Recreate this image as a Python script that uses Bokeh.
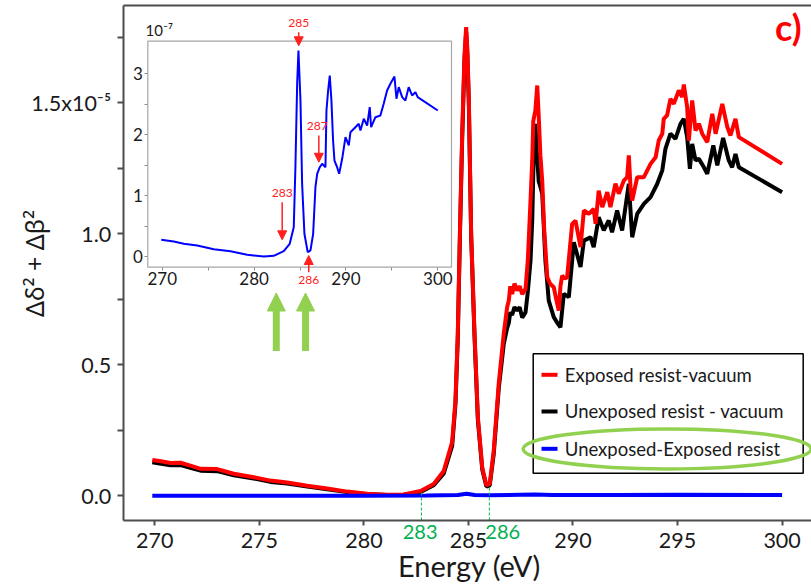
import math
from bokeh.plotting import figure
from bokeh.models import (Range1d, LinearAxis, FixedTicker, Label, Arrow, NormalHead)
from bokeh.core.properties import value
from bokeh.embed import file_html
from bokeh.resources import INLINE

# ---------------- data (main panel, y in units of 1e-5) ----------------
energy_exposed = [269.88, 270.3, 270.75, 271.23, 271.7, 272.19, 272.98, 273.78, 274.73, 275.53,
                  276.33, 277.29, 278.24, 279.2, 280.16, 281.11, 281.91, 282.71, 283.34, 283.82,
                  284.22, 284.38, 284.49, 284.59, 284.7, 284.81, 284.89, 284.95, 285.02, 285.13,
                  285.29, 285.45, 285.66, 285.86, 286.02, 286.21, 286.45, 286.69, 286.85, 286.93,
                  287.0, 287.09, 287.2, 287.33, 287.45, 287.57, 287.73, 287.84, 287.97, 288.05,
                  288.1, 288.2, 288.29, 288.36, 288.44, 288.53, 288.62, 288.77, 288.9, 289.08,
                  289.2, 289.32, 289.4, 289.48, 289.6, 289.72, 289.96, 290.12, 290.36, 290.52,
                  290.76, 290.99, 291.08, 291.23, 291.4, 291.64, 291.79, 292.03, 292.19, 292.43,
                  292.59, 292.67, 292.75, 292.83, 293.07, 293.39, 293.71, 293.95, 294.1, 294.27,
                  294.34, 294.5, 294.66, 294.82, 295.06, 295.22, 295.3, 295.46, 295.54, 295.7,
                  295.86, 296.02, 296.18, 296.42, 296.66, 296.82, 297.14, 297.38, 297.53, 297.77,
                  297.93, 300.0]
exposed_vacuum = [0.137, 0.132, 0.125, 0.126, 0.115, 0.103, 0.102, 0.084, 0.071, 0.058,
                  0.051, 0.038, 0.028, 0.016, 0.008, 0.004, 0.005, 0.018, 0.045, 0.095,
                  0.205, 0.364, 0.619, 1.0, 1.38, 1.68, 1.789, 1.70, 1.51, 1.0,
                  0.62, 0.30, 0.108, 0.04, 0.046, 0.173, 0.43, 0.62, 0.72, 0.745,
                  0.80, 0.77, 0.81, 0.784, 0.80, 0.77, 0.79, 0.9, 1.13, 1.28,
                  1.43, 1.47, 1.566, 1.45, 1.30, 1.2, 1.02, 0.834, 0.81, 0.796,
                  0.75, 0.707, 0.80, 0.84, 0.83, 0.834, 1.038, 1.05, 0.949, 1.089,
                  1.076, 1.095, 1.038, 1.165, 1.102, 1.159, 1.102, 1.191, 1.153, 1.203,
                  1.216, 1.299, 1.178, 1.127, 1.216, 1.216, 1.267, 1.292, 1.356, 1.382,
                  1.439, 1.452, 1.515, 1.496, 1.547, 1.522, 1.57, 1.483, 1.356, 1.509,
                  1.394, 1.42, 1.382, 1.35, 1.458, 1.382, 1.496, 1.407, 1.375, 1.439,
                  1.369, 1.267]

energy_unexposed = [269.88, 270.3, 270.75, 271.23, 271.7, 272.19, 272.98, 273.78, 274.73, 275.53,
                    276.33, 277.29, 278.24, 279.2, 280.16, 281.11, 281.91, 282.71, 283.34, 283.82,
                    284.22, 284.38, 284.49, 284.59, 284.7, 284.81, 284.89, 284.95, 285.02, 285.13,
                    285.29, 285.45, 285.66, 285.86, 286.02, 286.21, 286.45, 286.69, 286.85, 286.93,
                    287.0, 287.09, 287.2, 287.33, 287.45, 287.57, 287.73, 287.84, 287.97, 288.05,
                    288.12, 288.2, 288.28, 288.36, 288.44, 288.53, 288.68, 288.84, 289.08, 289.25,
                    289.4, 289.56, 289.8, 290.04, 290.36, 290.52, 290.84, 290.99, 291.23, 291.47,
                    291.71, 291.87, 292.11, 292.35, 292.51, 292.67, 292.83, 293.07, 293.39, 293.71,
                    294.03, 294.27, 294.42, 294.66, 294.9, 295.14, 295.3, 295.46, 295.59, 295.7,
                    295.86, 296.02, 296.26, 296.42, 296.71, 296.9, 297.18, 297.45, 297.61, 297.77,
                    297.93, 300.0]
unexposed_vacuum = [0.128, 0.122, 0.117, 0.117, 0.107, 0.096, 0.094, 0.078, 0.066, 0.053,
                    0.047, 0.035, 0.025, 0.014, 0.006, 0.003, 0.004, 0.015, 0.040, 0.085,
                    0.19, 0.35, 0.60, 0.98, 1.36, 1.66, 1.77, 1.68, 1.49, 0.99,
                    0.61, 0.29, 0.10, 0.035, 0.04, 0.16, 0.41, 0.58, 0.64, 0.66,
                    0.70, 0.69, 0.72, 0.707, 0.72, 0.68, 0.70, 0.78, 0.90, 1.05,
                    1.30, 1.42, 1.30, 1.20, 1.18, 1.152, 0.898, 0.745, 0.682, 0.66,
                    0.643, 0.771, 0.758, 0.968, 0.873, 0.974, 0.987, 0.949, 1.063, 1.013,
                    1.051, 1.006, 1.089, 1.013, 1.102, 1.191, 0.987, 1.076, 1.114, 1.14,
                    1.191, 1.242, 1.324, 1.382, 1.362, 1.42, 1.439, 1.369, 1.248, 1.343,
                    1.28, 1.286, 1.254, 1.229, 1.337, 1.261, 1.366, 1.28, 1.254, 1.305,
                    1.254, 1.159]

energy_diff_main = [269.88, 275.0, 280.0, 283.0, 284.5, 284.9, 285.3, 286.0, 287.5, 288.2, 289.0, 292.0, 295.0, 300.0]
diff_main = [0.0, 0.0, 0.0, 0.001, 0.003, 0.008, 0.003, 0.002, 0.004, 0.005, 0.003, 0.003, 0.004, 0.003]

# ---------------- data (inset, y in units of 1e-7) ----------------
energy_inset = [269.9, 271.26, 272.35, 273.81, 275.62, 277.43, 279.25, 281.06, 282.14, 283.23,
                283.88, 284.32, 284.5, 284.69, 284.83, 285.05, 285.23, 285.48, 285.84, 286.14,
                286.43, 286.68, 286.87, 287.15, 287.41, 287.77, 287.88, 288.06, 288.24, 288.42,
                288.6, 288.75, 289.04, 289.26, 289.59, 289.95, 290.31, 290.49, 291.03, 291.39,
                291.58, 291.94, 292.31, 292.59, 292.74, 293.21, 293.75, 294.11, 294.48, 294.84,
                295.28, 295.5, 295.75, 296.12, 296.47, 296.83, 297.2, 297.56, 297.81, 300.0]
diff_inset = [0.274, 0.246, 0.208, 0.181, 0.12, 0.087, 0.028, 0.0, 0.011, 0.087,
              0.208, 0.48, 1.466, 2.836, 3.383, 2.56, 1.194, 0.373, 0.071, 0.1,
              0.373, 1.138, 1.358, 1.466, 1.522, 1.466, 2.397, 2.726, 2.972, 2.56,
              1.905, 1.576, 1.466, 1.358, 1.604, 1.959, 1.823, 2.041, 2.123, 2.179,
              2.069, 2.261, 2.151, 2.452, 2.123, 2.287, 2.315, 2.507, 2.726, 2.836,
              2.956, 2.59, 2.78, 2.616, 2.56, 2.78, 2.644, 2.698, 2.616, 2.397]

# ticks
x_ticks = [270, 275, 280, 285, 290, 295, 300]
y_tick_values = [0.0, 0.25, 0.5, 0.75, 1.0, 1.25, 1.5, 1.75]
y_tick_labels = ["0.0", "", "0.5", "", "1.0", "", "1.5x10⁻⁵", ""]
inset_x_ticks = [270, 280, 290, 300]
inset_x_minor = [275, 285, 295]
inset_y_ticks = [0, 1, 2, 3]
inset_y_minor = [0.5, 1.5, 2.5]

legend_labels = ["Exposed resist-vacuum", "Unexposed resist - vacuum", "Unexposed-Exposed resist"]
legend_colors = ["#ff0000", "black", "#0000ff"]

# annotated energies (green dashed markers) and where their labels sit
marker_energies = [282.75, 286.0]
marker_tops = [0.018, 0.042]
marker_texts = ["283", "286"]
marker_text_pos = [282.69, 286.64]
inset_marks = [("285", 284.86), ("283", 283.06), ("287", 287.05), ("286", 285.95)]

TXT = "#1a1a1a"
AX = "#4d4d4d"
FONT = "Lato"

# main axes box (data units) and canvas-wide view ranges
AX0, AX1, AY0, AY1 = 268.49, 301.41, -0.0943, 1.8714

p = figure(width=811, height=584, output_backend="svg", toolbar_location=None,
           x_range=Range1d(262.621, 301.406), y_range=Range1d(-0.33855, 1.89046),
           x_axis_type=None, y_axis_type=None,
           min_border_left=0, min_border_right=0, min_border_top=0, min_border_bottom=0)
p.outline_line_color = None
p.grid.visible = False
p.background_fill_color = "white"
p.border_fill_color = "white"


def style_axis(ax, color, lw, font_size, tick_out):
    ax.axis_line_color = color
    ax.axis_line_width = lw
    ax.major_tick_line_color = color
    ax.major_tick_line_width = lw
    ax.major_tick_in = 0
    ax.major_tick_out = tick_out
    ax.minor_tick_line_color = color
    ax.minor_tick_in = 0
    ax.minor_tick_out = tick_out
    ax.major_label_text_font = FONT
    ax.major_label_text_font_size = font_size
    ax.major_label_text_color = TXT


xa = LinearAxis(fixed_location=AY0, bounds=(AX0, AX1), ticker=FixedTicker(ticks=x_ticks, minor_ticks=[]))
style_axis(xa, AX, 2, "21.5px", 5)
xa.major_label_standoff = 7
p.add_layout(xa, "below")

ya = LinearAxis(fixed_location=AX0, bounds=(AY0, AY1), ticker=FixedTicker(ticks=y_tick_values, minor_ticks=[]),
                major_label_overrides=dict(zip(y_tick_values, y_tick_labels)))
style_axis(ya, AX, 2, "21.5px", 6)
ya.major_label_standoff = 6
p.add_layout(ya, "left")

top_rule = LinearAxis(fixed_location=AY1, bounds=(AX0, AX1), ticker=FixedTicker(ticks=[], minor_ticks=[]))
style_axis(top_rule, AX, 2, "0px", 0)
p.add_layout(top_rule, "above")

# green energy labels under the axis, placed like tick labels (slightly higher than the main ones)
gx = LinearAxis(fixed_location=AY0, ticker=FixedTicker(ticks=marker_text_pos, minor_ticks=[]),
                major_label_overrides=dict(zip(marker_text_pos, marker_texts)))
style_axis(gx, AX, 1, "20px", 0)
gx.axis_line_color = None
gx.major_tick_line_color = None
gx.minor_tick_line_color = None
gx.major_label_text_color = "#00b050"
gx.major_label_standoff = 4
p.add_layout(gx, "below")

# titles and panel label
p.add_layout(Label(x=285.05, y=-0.266, text="Energy (eV)", text_align="center", text_baseline="middle",
                   text_font=FONT, text_font_size="29px", text_color=TXT))
p.add_layout(Label(x=264.2, y=0.8866, text="Δδ² + Δβ²", angle=math.pi / 2, text_align="center",
                   text_baseline="middle", text_font="Noto Sans", text_font_size="25px", text_color=TXT))
p.add_layout(Label(x=300.3, y=1.79, text="c)", text_align="center", text_baseline="middle",
                   text_font=FONT, text_font_size="36px", text_font_style="bold", text_color="#ff0000"))

# main curves
r_black = p.line(energy_unexposed, unexposed_vacuum, line_color="black", line_width=4)
r_red = p.line(energy_exposed, exposed_vacuum, line_color="#ff0000", line_width=4)
r_blue = p.line(energy_diff_main, diff_main, line_color="#0000ff", line_width=4)

# green dashed markers
p.segment(x0=marker_energies, y0=[AY0] * 2, x1=marker_energies, y1=marker_tops,
          line_color="#00b050", line_width=1, line_dash="3 2")

# green arrows
for xe in (275.81, 277.21):
    p.add_layout(Arrow(x_start=xe, y_start=0.553, x_end=xe, y_end=0.774, line_color="#92d050",
                       line_width=7, end=NormalHead(size=18, fill_color="#92d050", line_color="#92d050",
                                                    line_width=1)))

# legend box (drawn with glyphs so the highlight ellipse can sit on top of it)
LG_L, LG_R, LG_B, LG_T = 288.097, 301.009, 0.0863, 0.542
legend_y = [0.4618, 0.3218, 0.1794]
p.quad(left=[LG_L], right=[LG_R], bottom=[LG_B], top=[LG_T], fill_color="white",
       line_color="black", line_width=1.5)
p.segment(x0=[288.494] * 3, y0=legend_y, x1=[289.259] * 3, y1=legend_y,
          line_color=legend_colors, line_width=4)
p.text(x=[289.608] * 3, y=legend_y, text=legend_labels, text_font=value(FONT),
       text_font_size="18.5px", text_color=TXT, text_baseline="middle", text_align="left")

# green highlight ellipse around the third legend entry
p.ellipse(x=[294.5], y=[0.179], width=288, height=40, width_units="screen", height_units="screen",
          fill_color=None, line_color="#92d050", line_width=3.5)

# ---------------- inset via extra ranges ----------------
p.extra_x_ranges = {"inset_x": Range1d(252.399, 340.676)}
p.extra_y_ranges = {"inset_y": Range1d(-5.3859, 4.2036)}
IX0, IX1, IY0, IY1 = 268.433, 301.49, -0.1757, 3.535

p.quad(left=[IX0], right=[IX1], bottom=[IY0], top=[IY1], x_range_name="inset_x", y_range_name="inset_y",
       fill_color="white", line_color="#a6a6a6", line_width=1.2)
p.line(energy_inset, diff_inset, x_range_name="inset_x", y_range_name="inset_y",
       line_color="#0000ff", line_width=2)

iax = LinearAxis(x_range_name="inset_x", y_range_name="inset_y", fixed_location=IY0, bounds=(IX0, IX1),
                 ticker=FixedTicker(ticks=inset_x_ticks, minor_ticks=inset_x_minor))
iay = LinearAxis(x_range_name="inset_x", y_range_name="inset_y", fixed_location=IX0, bounds=(IY0, IY1),
                 ticker=FixedTicker(ticks=inset_y_ticks, minor_ticks=inset_y_minor))
for ax in (iax, iay):
    style_axis(ax, "#8c8c8c", 1, "17px", 3)
    ax.axis_line_color = None
    ax.major_label_standoff = 2
p.add_layout(iax, "below")
p.add_layout(iay, "left")

p.add_layout(Label(x=268.18, y=3.711, text="10⁻⁷", x_range_name="inset_x", y_range_name="inset_y",
                   text_align="left", text_baseline="middle", text_font=FONT, text_font_size="15px",
                   text_color=TXT))

# red inset annotations: label position y and arrow start/end
inset_label_y = [3.842, 1.043, 2.151, -0.394]
inset_arrow_y = [(3.683, 3.46), (0.89, 0.274), (1.987, 1.548), (-0.26, 0.016)]
inset_label_dx = [0.0, 0.0, -0.18, 0.0]
for (txt, e), ly, (a0, a1), dx in zip(inset_marks, inset_label_y, inset_arrow_y, inset_label_dx):
    p.add_layout(Label(x=e + dx, y=ly, text=txt, x_range_name="inset_x", y_range_name="inset_y",
                       text_align="center", text_baseline="middle", text_font=FONT,
                       text_font_size="12px", text_color="#ff2020"))
    p.add_layout(Arrow(x_start=e, y_start=a0, x_end=e, y_end=a1, x_range_name="inset_x",
                       y_range_name="inset_y", line_color="#ff2020", line_width=1.5,
                       end=NormalHead(size=9, fill_color="#ff2020", line_color="#ff2020", line_width=1)))

open("out.html", "w").write(file_html(p, INLINE))
